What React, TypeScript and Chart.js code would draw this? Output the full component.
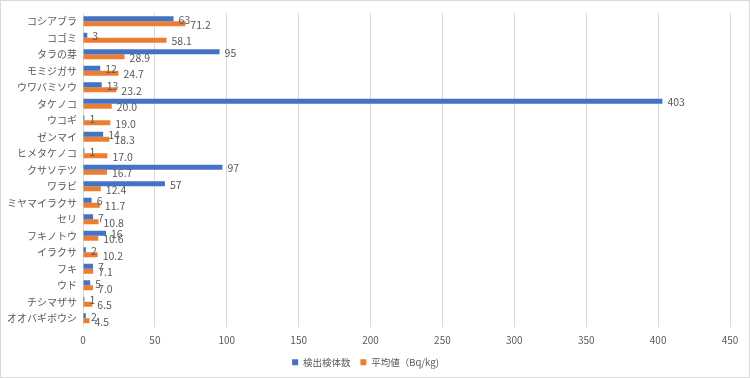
import React, { useEffect, useRef } from "react";
import { Chart, registerables } from "chart.js";

Chart.register(...registerables);

const categories = [
  "コシアブラ", "コゴミ", "タラの芽", "モミジガサ", "ウワバミソウ", "タケノコ", "ウコギ",
  "ゼンマイ", "ヒメタケノコ", "クサソテツ", "ワラビ", "ミヤマイラクサ", "セリ", "フキノトウ",
  "イラクサ", "フキ", "ウド", "チシマザサ", "オオバギボウシ",
];
const detectedCounts = [63, 3, 95, 12, 13, 403, 1, 14, 1, 97, 57, 6, 7, 16, 2, 7, 5, 1, 2];
const averageValues = [71.2, 58.1, 28.9, 24.7, 23.2, 20.0, 19.0, 18.3, 17.0, 16.7, 12.4, 11.7, 10.8, 10.6, 10.2, 7.1, 7.0, 6.5, 4.5];
const seriesNames = ["検出検体数", "平均値（Bq/kg)"];
const xTicks = [0, 50, 100, 150, 200, 250, 300, 350, 400, 450];

const FONT = "'Noto Sans CJK JP', 'Noto Sans', sans-serif";
const TEXT = "#595959";

const labelPlugin = {
  id: "valueLabels",
  afterDatasetsDraw(chart: any) {
    const ctx = chart.ctx;
    ctx.save();
    ctx.font = `10.5px ${FONT}`;
    ctx.fillStyle = TEXT;
    ctx.textAlign = "left";
    ctx.textBaseline = "middle";
    chart.data.datasets.forEach((ds: any, di: number) => {
      const meta = chart.getDatasetMeta(di);
      meta.data.forEach((el: any, i: number) => {
        const v = ds.data[i];
        const txt = di === 0 ? String(v) : Number(v).toFixed(1);
        ctx.fillText(txt, el.x + 5, el.y + 1);
      });
    });
    ctx.restore();
  },
};

export default function App() {
  const ref = useRef<HTMLCanvasElement>(null);
  useEffect(() => {
    if (!ref.current) return;
    const chart = new Chart(ref.current, {
      type: "bar",
      data: {
        labels: categories,
        datasets: [
          { label: seriesNames[0], data: detectedCounts, backgroundColor: "#4472C4", categoryPercentage: 0.6, barPercentage: 1 },
          { label: seriesNames[1], data: averageValues, backgroundColor: "#ED7D31", categoryPercentage: 0.6, barPercentage: 1 },
        ],
      },
      options: {
        indexAxis: "y",
        animation: false,
        responsive: false,
        layout: { padding: { top: 7, right: 19, left: 0, bottom: 0 } },
        scales: {
          x: {
            min: 0,
            max: 450,
            afterBuildTicks: (s: any) => { s.ticks = xTicks.map((v) => ({ value: v })); },
            grid: { color: "#d9d9d9", drawTicks: false },
            border: { display: false },
            ticks: { color: TEXT, font: { family: FONT, size: 10 }, padding: 8 },
            afterFit: (s: any) => { s.height = s.height - 7; },
          },
          y: {
            grid: { display: false, drawTicks: false },
            border: { display: false },
            ticks: { color: TEXT, font: { family: FONT, size: 10 }, padding: 6, autoSkip: false },
            afterFit: (s: any) => { s.width = 82; },
          },
        },
        plugins: {
          legend: {
            position: "bottom",
            labels: { color: TEXT, font: { family: FONT, size: 9.5 }, boxWidth: 6, boxHeight: 6, padding: 10 },
          },
          tooltip: { enabled: false },
        },
      },
      plugins: [labelPlugin],
    } as any);
    return () => chart.destroy();
  }, []);
  return (
    <div style={{ position: "absolute", left: 0, top: 0, width: 750, height: 378, boxSizing: "border-box", border: "1px solid #d9d9d9", background: "#fff" }}>
      <canvas ref={ref} width={748} height={376} style={{ display: "block" }} />
    </div>
  );
}
